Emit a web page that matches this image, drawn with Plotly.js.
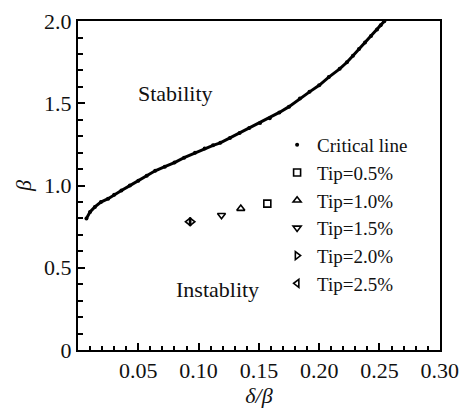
<!DOCTYPE html>
<html>
<head>
<meta charset="utf-8">
<script src="https://cdn.plot.ly/plotly-3.0.1.min.js"></script>
<style>
html,body{margin:0;padding:0;background:#fff;}
.c{width:459px;height:408px;}
</style>
</head>
<body>
<div id="fig" class="c"></div>
<script>
// Critical line
var critX = [0.007, 0.010, 0.014, 0.019, 0.025, 0.030, 0.036, 0.043, 0.050, 0.057, 0.064, 0.072, 0.080, 0.088, 0.097, 0.105, 0.112, 0.118, 0.126, 0.134, 0.142, 0.151, 0.159, 0.167, 0.175, 0.184, 0.192, 0.200, 0.208, 0.217, 0.223, 0.228, 0.233, 0.238, 0.243, 0.248, 0.251, 0.254];
var critY = [0.80, 0.84, 0.87, 0.90, 0.92, 0.945, 0.97, 1.00, 1.03, 1.06, 1.09, 1.115, 1.14, 1.17, 1.20, 1.225, 1.245, 1.26, 1.29, 1.32, 1.35, 1.38, 1.41, 1.445, 1.48, 1.53, 1.57, 1.61, 1.66, 1.71, 1.75, 1.79, 1.83, 1.87, 1.91, 1.95, 1.975, 2.0];

// Tip series
var tipNames = ["Tip=0.5%", "Tip=1.0%", "Tip=1.5%", "Tip=2.0%", "Tip=2.5%"];
var tipX = [0.157, 0.135, 0.119, 0.094, 0.092];
var tipY = [0.89, 0.86, 0.82, 0.78, 0.78];
var tipSymbols = ["square-open", "triangle-up-open", "triangle-down-open", "triangle-right-open", "triangle-left-open"];

// Tick label aliases
var xLabelAlias = {"0.00": ""};
var yLabelAlias = {"0.0": "0"};

var FONT = "Liberation Serif";

var data = [
  {x: critX, y: critY, mode: "lines", type: "scatter", showlegend: false,
   line: {color: "#000", width: 3}, hoverinfo: "skip"},
  {x: critX, y: critY, mode: "markers", type: "scatter", name: "Critical line",
   marker: {color: "#000", size: 4, symbol: "circle"}}
];
for (var i = 0; i < tipNames.length; i++) {
  data.push({x: [tipX[i]], y: [tipY[i]], mode: "markers", type: "scatter", name: tipNames[i],
    marker: {color: "#000", size: 7, symbol: tipSymbols[i], line: {color: "#000", width: 1.6}}});
}
// empty trace so the overlaid minor-tick y axis is drawn
data.push({x: [], y: [], yaxis: "y2", type: "scatter", mode: "markers", showlegend: false, hoverinfo: "skip"});

var layout = {
  width: 459, height: 408,
  margin: {l: 78, r: 19, t: 21, b: 58},
  paper_bgcolor: "#fff", plot_bgcolor: "#fff",
  font: {family: FONT, size: 22, color: "#111"},
  showlegend: true,
  legend: {x: 0.55, y: 0.681, xanchor: "left", yanchor: "top",
    bgcolor: "rgba(0,0,0,0)", borderwidth: 0, font: {family: FONT, size: 19, color: "#111"},
    itemwidth: 30, tracegroupgap: 0},
  xaxis: {
    range: [0, 0.3002], showgrid: false, zeroline: false,
    showline: true, linecolor: "#000", linewidth: 2, mirror: true,
    tickmode: "linear", tick0: 0, dtick: 0.05, tickformat: ".2f", labelalias: xLabelAlias,
    ticklabeloverflow: "allow",
    ticks: "inside", ticklen: 7, tickwidth: 2, tickcolor: "#000",
    minor: {tickmode: "linear", tick0: 0, dtick: 0.01, ticks: "inside", ticklen: 4, tickwidth: 1.5, tickcolor: "#000", showgrid: false},
    tickfont: {family: FONT, size: 22, color: "#111"},
    title: {text: "<i>δ/β</i>", font: {family: FONT, size: 22, color: "#111"}, standoff: 6}
  },
  yaxis: {
    range: [0, 2.001], showgrid: false, zeroline: false,
    showline: true, linecolor: "#000", linewidth: 2, mirror: true,
    tickmode: "linear", tick0: 0, dtick: 0.5, tickformat: ".1f", labelalias: yLabelAlias,
    ticks: "inside", ticklen: 7, tickwidth: 2, tickcolor: "#000",
    tickfont: {family: FONT, size: 22, color: "#111"},
    title: {text: "<i>β</i>", font: {family: FONT, size: 22, color: "#111"}, standoff: 6}
  },
  yaxis2: {
    overlaying: "y", side: "left", range: [0, 2.001],
    showgrid: false, zeroline: false, showline: false, showticklabels: false,
    tickmode: "linear", tick0: 0, dtick: 0.1,
    ticks: "inside", ticklen: 5, tickwidth: 1.5, tickcolor: "#000"
  },
  annotations: [
    {text: "Stability", x: 0.081, y: 1.56, xref: "x", yref: "y", showarrow: false,
     font: {family: FONT, size: 22, color: "#111"}},
    {text: "Instablity", x: 0.116, y: 0.365, xref: "x", yref: "y", showarrow: false,
     font: {family: FONT, size: 22, color: "#111"}}
  ]
};

Plotly.newPlot(document.getElementById("fig"), data, layout, {displayModeBar: false});
</script>
</body>
</html>
